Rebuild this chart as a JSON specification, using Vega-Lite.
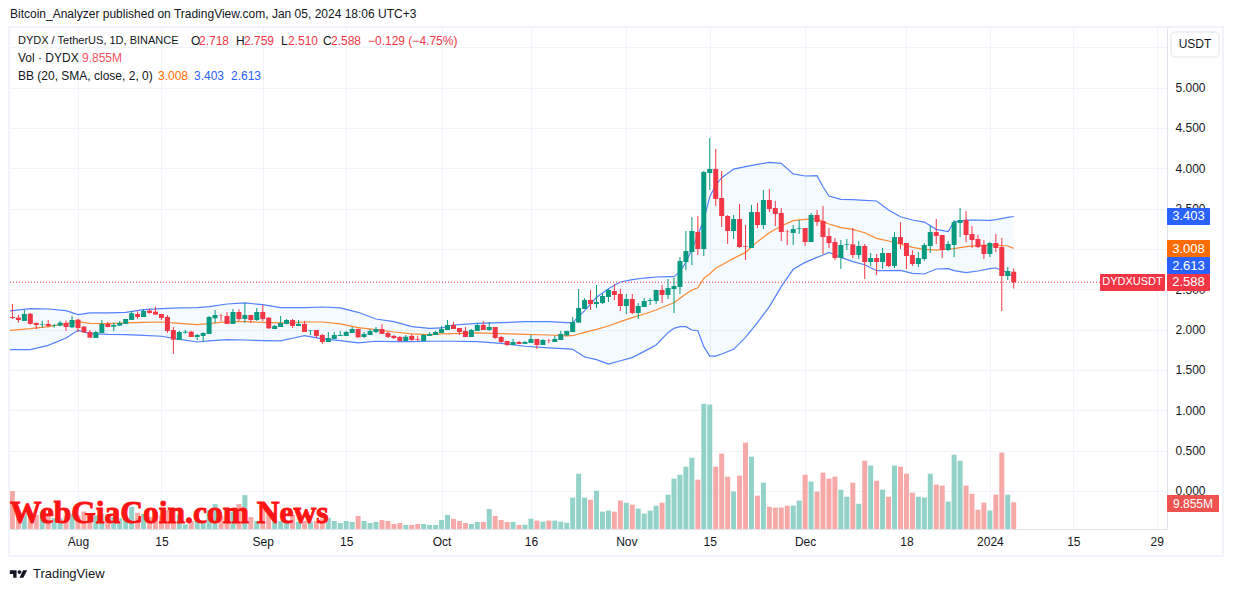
{"$schema":"https://vega.github.io/schema/vega-lite/v6.json","width":1157,"height":501,"autosize":{"type":"none"},"padding":{"left":10,"top":28,"right":66,"bottom":63},"background":"#ffffff","config":{"view":{"stroke":null},"text":{"font":"Liberation Sans","fontSize":12}},"data":{"values":[{}]},"datasets":{"candles":[
{"d":"2023-07-21","o":2.157,"h":2.318,"l":2.132,"c":2.145,"v":14},{"d":"2023-07-22","o":2.149,"h":2.182,"l":2.087,"c":2.12,"v":5},{"d":"2023-07-23","o":2.108,"h":2.244,"l":2.108,"c":2.194,"v":6},{"d":"2023-07-24","o":2.198,"h":2.207,"l":2.062,"c":2.071,"v":5.5},{"d":"2023-07-25","o":2.083,"h":2.087,"l":2.008,"c":2.058,"v":5.2},{"d":"2023-07-26","o":2.058,"h":2.112,"l":2.025,"c":2.066,"v":6.4},{"d":"2023-07-27","o":2.071,"h":2.12,"l":2.029,"c":2.046,"v":5.5},{"d":"2023-07-28","o":2.05,"h":2.071,"l":2.025,"c":2.058,"v":4},{"d":"2023-07-29","o":2.05,"h":2.108,"l":2.042,"c":2.087,"v":4},{"d":"2023-07-30","o":2.083,"h":2.112,"l":1.984,"c":2.033,"v":5},{"d":"2023-07-31","o":2.029,"h":2.17,"l":2.021,"c":2.12,"v":5.5},
{"d":"2023-08-01","o":2.124,"h":2.137,"l":1.971,"c":2.021,"v":5},{"d":"2023-08-02","o":2.037,"h":2.046,"l":1.959,"c":1.967,"v":6.5},{"d":"2023-08-03","o":1.971,"h":1.996,"l":1.897,"c":1.901,"v":5},{"d":"2023-08-04","o":1.897,"h":1.984,"l":1.897,"c":1.971,"v":5},{"d":"2023-08-05","o":1.959,"h":2.12,"l":1.959,"c":2.071,"v":5.5},{"d":"2023-08-06","o":2.071,"h":2.095,"l":2.029,"c":2.033,"v":5.5},{"d":"2023-08-07","o":2.037,"h":2.087,"l":1.98,"c":2.058,"v":4.5},{"d":"2023-08-08","o":2.05,"h":2.108,"l":2.046,"c":2.083,"v":4},{"d":"2023-08-09","o":2.071,"h":2.132,"l":2.071,"c":2.132,"v":4.5},{"d":"2023-08-10","o":2.12,"h":2.232,"l":2.12,"c":2.203,"v":8.2},{"d":"2023-08-11","o":2.194,"h":2.223,"l":2.132,"c":2.157,"v":6},{"d":"2023-08-12","o":2.157,"h":2.256,"l":2.157,"c":2.232,"v":5.5},{"d":"2023-08-13","o":2.236,"h":2.26,"l":2.198,"c":2.207,"v":4.5},{"d":"2023-08-14","o":2.223,"h":2.285,"l":2.186,"c":2.186,"v":4.5},{"d":"2023-08-15","o":2.194,"h":2.194,"l":2.12,"c":2.145,"v":5},{"d":"2023-08-16","o":2.157,"h":2.182,"l":1.959,"c":1.984,"v":7},{"d":"2023-08-17","o":1.996,"h":2.033,"l":1.699,"c":1.876,"v":7.5},{"d":"2023-08-18","o":1.872,"h":1.984,"l":1.872,"c":1.971,"v":5.4},{"d":"2023-08-19","o":1.963,"h":1.996,"l":1.947,"c":1.975,"v":1.7},{"d":"2023-08-20","o":1.975,"h":1.984,"l":1.909,"c":1.909,"v":3},{"d":"2023-08-21","o":1.909,"h":1.947,"l":1.872,"c":1.934,"v":3},{"d":"2023-08-22","o":1.922,"h":1.967,"l":1.847,"c":1.959,"v":3},{"d":"2023-08-23","o":1.947,"h":2.17,"l":1.947,"c":2.157,"v":7},{"d":"2023-08-24","o":2.141,"h":2.244,"l":2.083,"c":2.182,"v":9.2},{"d":"2023-08-25","o":2.182,"h":2.194,"l":2.108,"c":2.178,"v":4.9},{"d":"2023-08-26","o":2.17,"h":2.219,"l":2.071,"c":2.071,"v":4.9},{"d":"2023-08-27","o":2.071,"h":2.256,"l":2.071,"c":2.219,"v":6.4},{"d":"2023-08-28","o":2.219,"h":2.252,"l":2.108,"c":2.132,"v":9.2},{"d":"2023-08-29","o":2.132,"h":2.331,"l":2.083,"c":2.182,"v":12.5},{"d":"2023-08-30","o":2.182,"h":2.182,"l":2.083,"c":2.12,"v":4.4},{"d":"2023-08-31","o":2.12,"h":2.269,"l":2.108,"c":2.219,"v":3},
{"d":"2023-09-01","o":2.219,"h":2.306,"l":2.108,"c":2.132,"v":7.6},{"d":"2023-09-02","o":2.149,"h":2.153,"l":2.008,"c":2.017,"v":5.7},{"d":"2023-09-03","o":2.008,"h":2.058,"l":2.008,"c":2.046,"v":3.6},{"d":"2023-09-04","o":2.033,"h":2.17,"l":2.033,"c":2.083,"v":3},{"d":"2023-09-05","o":2.071,"h":2.132,"l":2.066,"c":2.12,"v":3},{"d":"2023-09-06","o":2.12,"h":2.132,"l":2.021,"c":2.046,"v":5.2},{"d":"2023-09-07","o":2.046,"h":2.12,"l":2.046,"c":2.071,"v":2.7},{"d":"2023-09-08","o":2.071,"h":2.108,"l":1.971,"c":1.971,"v":3},{"d":"2023-09-09","o":1.988,"h":1.996,"l":1.934,"c":1.996,"v":2.7},{"d":"2023-09-10","o":1.996,"h":1.996,"l":1.897,"c":1.922,"v":3},{"d":"2023-09-11","o":1.934,"h":1.947,"l":1.823,"c":1.847,"v":3.9},{"d":"2023-09-12","o":1.847,"h":1.971,"l":1.847,"c":1.897,"v":4.1},{"d":"2023-09-13","o":1.885,"h":1.971,"l":1.885,"c":1.934,"v":2.95},{"d":"2023-09-14","o":1.922,"h":1.984,"l":1.922,"c":1.934,"v":2.2},{"d":"2023-09-15","o":1.922,"h":1.984,"l":1.922,"c":1.971,"v":2.95},{"d":"2023-09-16","o":1.959,"h":2.033,"l":1.959,"c":2.008,"v":2.6},{"d":"2023-09-17","o":2.008,"h":2.012,"l":1.897,"c":1.905,"v":4.8},{"d":"2023-09-18","o":1.909,"h":1.971,"l":1.897,"c":1.947,"v":2.95},{"d":"2023-09-19","o":1.934,"h":2.008,"l":1.934,"c":1.984,"v":2.2},{"d":"2023-09-20","o":1.971,"h":2.033,"l":1.959,"c":2.008,"v":2.6},{"d":"2023-09-21","o":2.008,"h":2.071,"l":1.947,"c":1.947,"v":3.3},{"d":"2023-09-22","o":1.959,"h":1.971,"l":1.897,"c":1.909,"v":2.95},{"d":"2023-09-23","o":1.922,"h":1.934,"l":1.885,"c":1.897,"v":1.85},{"d":"2023-09-24","o":1.909,"h":1.922,"l":1.86,"c":1.86,"v":2.2},{"d":"2023-09-25","o":1.86,"h":1.934,"l":1.86,"c":1.913,"v":1.5},{"d":"2023-09-26","o":1.922,"h":1.947,"l":1.86,"c":1.872,"v":1.5},{"d":"2023-09-27","o":1.885,"h":1.922,"l":1.86,"c":1.876,"v":1.85},{"d":"2023-09-28","o":1.86,"h":1.947,"l":1.86,"c":1.934,"v":1.85},{"d":"2023-09-29","o":1.922,"h":1.971,"l":1.922,"c":1.947,"v":1.5},{"d":"2023-09-30","o":1.934,"h":1.984,"l":1.934,"c":1.971,"v":1.5},
{"d":"2023-10-01","o":1.959,"h":2.046,"l":1.959,"c":2.008,"v":3.3},{"d":"2023-10-02","o":1.996,"h":2.12,"l":1.996,"c":2.058,"v":5.2},{"d":"2023-10-03","o":2.058,"h":2.095,"l":2.008,"c":2.008,"v":3.7},{"d":"2023-10-04","o":2.021,"h":2.021,"l":1.934,"c":1.971,"v":2.95},{"d":"2023-10-05","o":1.984,"h":2.033,"l":1.909,"c":1.909,"v":2.2},{"d":"2023-10-06","o":1.909,"h":2.008,"l":1.909,"c":1.996,"v":1.85},{"d":"2023-10-07","o":1.984,"h":2.083,"l":1.984,"c":2.058,"v":2.6},{"d":"2023-10-08","o":2.058,"h":2.108,"l":1.996,"c":1.996,"v":2.6},{"d":"2023-10-09","o":1.996,"h":2.095,"l":1.984,"c":2.033,"v":7.4},{"d":"2023-10-10","o":2.033,"h":2.033,"l":1.885,"c":1.897,"v":4.8},{"d":"2023-10-11","o":1.909,"h":1.922,"l":1.835,"c":1.847,"v":3.3},{"d":"2023-10-12","o":1.86,"h":1.86,"l":1.798,"c":1.81,"v":2.6},{"d":"2023-10-13","o":1.81,"h":1.885,"l":1.81,"c":1.847,"v":2.6},{"d":"2023-10-14","o":1.847,"h":1.86,"l":1.823,"c":1.823,"v":1.5},{"d":"2023-10-15","o":1.823,"h":1.86,"l":1.823,"c":1.847,"v":1.6},{"d":"2023-10-16","o":1.835,"h":1.934,"l":1.835,"c":1.885,"v":3.8},{"d":"2023-10-17","o":1.885,"h":1.885,"l":1.761,"c":1.81,"v":3.1},{"d":"2023-10-18","o":1.81,"h":1.885,"l":1.81,"c":1.872,"v":2.7},{"d":"2023-10-19","o":1.872,"h":1.885,"l":1.831,"c":1.868,"v":3.1},{"d":"2023-10-20","o":1.847,"h":1.922,"l":1.847,"c":1.885,"v":3.1},{"d":"2023-10-21","o":1.872,"h":1.984,"l":1.872,"c":1.947,"v":2.7},{"d":"2023-10-22","o":1.93,"h":1.984,"l":1.922,"c":1.984,"v":2.3},{"d":"2023-10-23","o":1.971,"h":2.157,"l":1.971,"c":2.095,"v":11.6},{"d":"2023-10-24","o":2.087,"h":2.504,"l":2.087,"c":2.269,"v":20.4},{"d":"2023-10-25","o":2.256,"h":2.393,"l":2.256,"c":2.368,"v":11.6},{"d":"2023-10-26","o":2.368,"h":2.492,"l":2.244,"c":2.318,"v":10.8},{"d":"2023-10-27","o":2.318,"h":2.554,"l":2.269,"c":2.343,"v":14.1},{"d":"2023-10-28","o":2.33,"h":2.442,"l":2.318,"c":2.417,"v":6.4},{"d":"2023-10-29","o":2.405,"h":2.504,"l":2.343,"c":2.492,"v":6.8},{"d":"2023-10-30","o":2.479,"h":2.566,"l":2.367,"c":2.43,"v":6.4},{"d":"2023-10-31","o":2.442,"h":2.504,"l":2.231,"c":2.293,"v":10.5},
{"d":"2023-11-01","o":2.293,"h":2.442,"l":2.194,"c":2.38,"v":9.7},{"d":"2023-11-02","o":2.38,"h":2.442,"l":2.194,"c":2.206,"v":9},{"d":"2023-11-03","o":2.206,"h":2.33,"l":2.132,"c":2.293,"v":7.5},{"d":"2023-11-04","o":2.281,"h":2.392,"l":2.281,"c":2.355,"v":5.7},{"d":"2023-11-05","o":2.355,"h":2.392,"l":2.306,"c":2.367,"v":6.8},{"d":"2023-11-06","o":2.355,"h":2.492,"l":2.318,"c":2.492,"v":8.6},{"d":"2023-11-07","o":2.492,"h":2.553,"l":2.33,"c":2.43,"v":9.7},{"d":"2023-11-08","o":2.43,"h":2.628,"l":2.38,"c":2.516,"v":12.7},{"d":"2023-11-09","o":2.504,"h":2.64,"l":2.206,"c":2.541,"v":18.6},{"d":"2023-11-10","o":2.529,"h":2.901,"l":2.442,"c":2.851,"v":20},{"d":"2023-11-11","o":2.839,"h":3.223,"l":2.739,"c":2.975,"v":23},{"d":"2023-11-12","o":2.963,"h":3.396,"l":2.801,"c":3.223,"v":26.3},{"d":"2023-11-13","o":3.211,"h":3.409,"l":2.925,"c":3,"v":18.2},{"d":"2023-11-14","o":3,"h":3.967,"l":2.913,"c":3.954,"v":46.2},{"d":"2023-11-15","o":3.942,"h":4.376,"l":3.731,"c":3.992,"v":45.9},{"d":"2023-11-16","o":3.992,"h":4.239,"l":3.533,"c":3.62,"v":23},{"d":"2023-11-17","o":3.632,"h":3.967,"l":3.273,"c":3.409,"v":27.8},{"d":"2023-11-18","o":3.409,"h":3.421,"l":3.062,"c":3.223,"v":19.3},{"d":"2023-11-19","o":3.223,"h":3.421,"l":3.124,"c":3.372,"v":13.8},{"d":"2023-11-20","o":3.372,"h":3.558,"l":3.012,"c":3.025,"v":19.7},{"d":"2023-11-21","o":3.037,"h":3.297,"l":2.864,"c":3.029,"v":31.9},{"d":"2023-11-22","o":3.012,"h":3.545,"l":3.012,"c":3.458,"v":26.7},{"d":"2023-11-23","o":3.458,"h":3.57,"l":3.26,"c":3.297,"v":12.3},{"d":"2023-11-24","o":3.297,"h":3.731,"l":3.248,"c":3.607,"v":17.1},{"d":"2023-11-25","o":3.607,"h":3.744,"l":3.458,"c":3.496,"v":8.2},{"d":"2023-11-26","o":3.508,"h":3.595,"l":3.285,"c":3.434,"v":7.9},{"d":"2023-11-27","o":3.446,"h":3.508,"l":3.099,"c":3.211,"v":7.9},{"d":"2023-11-28","o":3.223,"h":3.235,"l":3.049,"c":3.219,"v":8.6},{"d":"2023-11-29","o":3.198,"h":3.297,"l":3.049,"c":3.248,"v":8.6},{"d":"2023-11-30","o":3.252,"h":3.359,"l":3.186,"c":3.26,"v":10.5},
{"d":"2023-12-01","o":3.26,"h":3.26,"l":3.037,"c":3.086,"v":20},{"d":"2023-12-02","o":3.086,"h":3.446,"l":3.086,"c":3.421,"v":17.5},{"d":"2023-12-03","o":3.421,"h":3.483,"l":3.285,"c":3.334,"v":13.8},{"d":"2023-12-04","o":3.347,"h":3.533,"l":2.938,"c":3.148,"v":20.8},{"d":"2023-12-05","o":3.161,"h":3.26,"l":3.012,"c":3.074,"v":18.6},{"d":"2023-12-06","o":3.086,"h":3.136,"l":2.863,"c":2.888,"v":19.3},{"d":"2023-12-07","o":2.888,"h":3.111,"l":2.752,"c":3.049,"v":14.5},{"d":"2023-12-08","o":3.049,"h":3.124,"l":2.987,"c":3.057,"v":11.9},{"d":"2023-12-09","o":3.057,"h":3.26,"l":2.888,"c":2.925,"v":17.1},{"d":"2023-12-10","o":2.925,"h":3.099,"l":2.876,"c":3.037,"v":9.3},{"d":"2023-12-11","o":3.037,"h":3.062,"l":2.628,"c":2.838,"v":25.2},{"d":"2023-12-12","o":2.838,"h":2.95,"l":2.789,"c":2.888,"v":23.4},{"d":"2023-12-13","o":2.888,"h":2.938,"l":2.677,"c":2.838,"v":17.8},{"d":"2023-12-14","o":2.838,"h":3.012,"l":2.752,"c":2.95,"v":14.5},{"d":"2023-12-15","o":2.95,"h":2.95,"l":2.777,"c":2.789,"v":11.9},{"d":"2023-12-16","o":2.789,"h":3.21,"l":2.764,"c":3.148,"v":23.4},{"d":"2023-12-17","o":3.148,"h":3.334,"l":3,"c":3.062,"v":23},{"d":"2023-12-18","o":3.074,"h":3.074,"l":2.752,"c":2.913,"v":20.4},{"d":"2023-12-19","o":2.925,"h":2.987,"l":2.789,"c":2.814,"v":13.4},{"d":"2023-12-20","o":2.814,"h":2.962,"l":2.777,"c":2.888,"v":11.9},{"d":"2023-12-21","o":2.876,"h":3.074,"l":2.855,"c":3.049,"v":11.6},{"d":"2023-12-22","o":3.037,"h":3.285,"l":2.95,"c":3.21,"v":20.4},{"d":"2023-12-23","o":3.21,"h":3.372,"l":3.062,"c":3.161,"v":16.4},{"d":"2023-12-24","o":3.173,"h":3.173,"l":2.888,"c":2.987,"v":16},{"d":"2023-12-25","o":2.987,"h":3.099,"l":2.975,"c":3.062,"v":10.1},{"d":"2023-12-26","o":3.049,"h":3.359,"l":2.9,"c":3.334,"v":27.4},{"d":"2023-12-27","o":3.322,"h":3.508,"l":3.148,"c":3.359,"v":25.2},{"d":"2023-12-28","o":3.359,"h":3.471,"l":3.086,"c":3.173,"v":16},{"d":"2023-12-29","o":3.186,"h":3.285,"l":3.012,"c":3.111,"v":13},{"d":"2023-12-30","o":3.124,"h":3.173,"l":3.012,"c":3.024,"v":7.1},{"d":"2023-12-31","o":3.049,"h":3.111,"l":2.876,"c":2.938,"v":9.7},
{"d":"2024-01-01","o":2.938,"h":3.086,"l":2.9,"c":3.074,"v":6.8},{"d":"2024-01-02","o":3.074,"h":3.186,"l":2.962,"c":3.012,"v":12.7},{"d":"2024-01-03","o":3.024,"h":3.136,"l":2.231,"c":2.665,"v":28.2},{"d":"2024-01-04","o":2.665,"h":2.776,"l":2.615,"c":2.727,"v":12.7},{"d":"2024-01-05","o":2.718,"h":2.759,"l":2.51,"c":2.588,"v":9.855}
],"bands":[
{"d":"2023-07-20","u":2.227,"m":1.988,"b":1.752},{"d":"2023-07-24","u":2.26,"m":2.012,"b":1.752},{"d":"2023-07-27","u":2.256,"m":2.037,"b":1.806},{"d":"2023-07-30","u":2.236,"m":2.075,"b":1.897},{"d":"2023-08-01","u":2.186,"m":2.099,"b":1.992},{"d":"2023-08-03","u":2.207,"m":2.079,"b":1.951},{"d":"2023-08-06","u":2.207,"m":2.075,"b":1.942},{"d":"2023-08-09","u":2.215,"m":2.083,"b":1.938},{"d":"2023-08-12","u":2.248,"m":2.091,"b":1.93},{"d":"2023-08-15","u":2.26,"m":2.095,"b":1.918},{"d":"2023-08-18","u":2.269,"m":2.079,"b":1.88},{"d":"2023-08-21","u":2.273,"m":2.062,"b":1.847},{"d":"2023-08-23","u":2.285,"m":2.075,"b":1.86},{"d":"2023-08-26","u":2.318,"m":2.099,"b":1.876},{"d":"2023-08-29","u":2.331,"m":2.099,"b":1.872},{"d":"2023-09-01","u":2.31,"m":2.091,"b":1.864},{"d":"2023-09-04","u":2.273,"m":2.083,"b":1.86},{"d":"2023-09-06","u":2.273,"m":2.087,"b":1.893},{"d":"2023-09-08","u":2.273,"m":2.095,"b":1.926},{"d":"2023-09-11","u":2.281,"m":2.095,"b":1.885},{"d":"2023-09-14","u":2.269,"m":2.071,"b":1.864},{"d":"2023-09-17","u":2.215,"m":2.025,"b":1.835},{"d":"2023-09-20","u":2.132,"m":2,"b":1.856},{"d":"2023-09-23","u":2.099,"m":1.971,"b":1.852},{"d":"2023-09-26","u":2.037,"m":1.947,"b":1.852},{"d":"2023-09-29","u":2.017,"m":1.938,"b":1.856},{"d":"2023-10-01","u":2.021,"m":1.947,"b":1.856},{"d":"2023-10-03","u":2.058,"m":1.951,"b":1.856},{"d":"2023-10-07","u":2.079,"m":1.959,"b":1.852},{"d":"2023-10-11","u":2.087,"m":1.951,"b":1.831},{"d":"2023-10-15","u":2.099,"m":1.942,"b":1.794},{"d":"2023-10-19","u":2.099,"m":1.934,"b":1.773},{"d":"2023-10-22","u":2.087,"m":1.922,"b":1.761},{"d":"2023-10-23","u":2.087,"m":1.925,"b":1.756},{"d":"2023-10-25","u":2.235,"m":1.967,"b":1.661},{"d":"2023-10-27","u":2.401,"m":2.004,"b":1.628},{"d":"2023-10-29","u":2.508,"m":2.045,"b":1.574},{"d":"2023-10-31","u":2.591,"m":2.099,"b":1.615},{"d":"2023-11-02","u":2.62,"m":2.149,"b":1.653},{"d":"2023-11-04","u":2.64,"m":2.194,"b":1.731},{"d":"2023-11-06","u":2.653,"m":2.244,"b":1.81},{"d":"2023-11-08","u":2.657,"m":2.306,"b":1.963},{"d":"2023-11-09","u":2.657,"m":2.334,"b":2.016},{"d":"2023-11-10","u":2.719,"m":2.388,"b":2.037},{"d":"2023-11-11","u":2.835,"m":2.442,"b":2.037},{"d":"2023-11-12","u":2.996,"m":2.492,"b":1.996},{"d":"2023-11-13","u":3.173,"m":2.52,"b":1.987},{"d":"2023-11-14","u":3.359,"m":2.636,"b":1.789},{"d":"2023-11-15","u":3.649,"m":2.694,"b":1.673},{"d":"2023-11-16","u":3.793,"m":2.76,"b":1.673},{"d":"2023-11-17","u":3.884,"m":2.801,"b":1.698},{"d":"2023-11-19","u":3.99,"m":2.884,"b":1.756},{"d":"2023-11-21","u":4.02,"m":2.958,"b":1.905},{"d":"2023-11-23","u":4.049,"m":3.091,"b":2.087},{"d":"2023-11-25","u":4.074,"m":3.202,"b":2.285},{"d":"2023-11-27","u":4.062,"m":3.285,"b":2.533},{"d":"2023-11-29","u":3.93,"m":3.351,"b":2.748},{"d":"2023-12-01","u":3.905,"m":3.367,"b":2.834},{"d":"2023-12-03","u":3.909,"m":3.372,"b":2.896},{"d":"2023-12-04","u":3.772,"m":3.339,"b":2.925},{"d":"2023-12-05","u":3.657,"m":3.31,"b":2.958},{"d":"2023-12-07","u":3.615,"m":3.264,"b":2.896},{"d":"2023-12-09","u":3.611,"m":3.243,"b":2.843},{"d":"2023-12-11","u":3.603,"m":3.202,"b":2.805},{"d":"2023-12-13","u":3.595,"m":3.132,"b":2.731},{"d":"2023-12-15","u":3.483,"m":3.099,"b":2.731},{"d":"2023-12-17","u":3.4,"m":3.062,"b":2.735},{"d":"2023-12-19","u":3.359,"m":3.02,"b":2.698},{"d":"2023-12-21","u":3.334,"m":2.996,"b":2.69},{"d":"2023-12-23","u":3.243,"m":2.987,"b":2.752},{"d":"2023-12-25","u":3.215,"m":3,"b":2.756},{"d":"2023-12-26","u":3.338,"m":3.004,"b":2.731},{"d":"2023-12-28","u":3.359,"m":3.029,"b":2.706},{"d":"2023-12-30","u":3.359,"m":3.041,"b":2.727},{"d":"2024-01-01","u":3.355,"m":3.049,"b":2.756},{"d":"2024-01-02","u":3.363,"m":3.049,"b":2.764},{"d":"2024-01-04","u":3.392,"m":3.037,"b":2.706},{"d":"2024-01-05","u":3.403,"m":3.008,"b":2.648}
]},
"layer":[
{"layer":[{"data":{"name":"candles"},"mark":{"type":"bar","size":5},"encoding":{"x":{"field":"d","type":"temporal","scale":{"type":"utc","nice":false,"padding":0,"domain":[1689862228208,1706634845316]},"title":null,"axis":{"values":[{"year":2023,"month":8,"date":1,"utc":true},{"year":2023,"month":8,"date":15,"utc":true},{"year":2023,"month":9,"date":1,"utc":true},{"year":2023,"month":9,"date":15,"utc":true},{"year":2023,"month":10,"date":1,"utc":true},{"year":2023,"month":10,"date":16,"utc":true},{"year":2023,"month":11,"date":1,"utc":true},{"year":2023,"month":11,"date":15,"utc":true},{"year":2023,"month":12,"date":1,"utc":true},{"year":2023,"month":12,"date":18,"utc":true},{"year":2024,"month":1,"date":1,"utc":true},{"year":2024,"month":1,"date":15,"utc":true},{"year":2024,"month":1,"date":29,"utc":true}],"labelExpr":"utcFormat(datum.value,'%d')=='01' ? (utcFormat(datum.value,'%m')=='01' ? '2024' : utcFormat(datum.value,'%b')) : utcFormat(datum.value,'%d')","grid":true,"gridColor":"#f0f3fa","gridWidth":1,"ticks":false,"domainColor":"#e0e3eb","labelColor":"#131722","labelFont":"Liberation Sans","labelFontSize":12,"labelPadding":7,"labelFlush":false,"labelOverlap":false,"labelAngle":0}},"y":{"field":"v","type":"quantitative","stack":null,"scale":{"domain":[0,184.9],"nice":false},"axis":null},"color":{"condition":{"test":"datum.c>=datum.o","value":"#92d2c8"},"value":"#f7a9a7"}}}]},
{"layer":[
{"data":{"name":"bands"},"mark":{"type":"area","color":"#2196f3","opacity":0.05,"clip":true},"encoding":{"x":{"field":"d","type":"temporal","title":null},"y":{"field":"u","type":"quantitative","title":null,"scale":{"domain":[-0.4711,5.7394],"nice":false,"zero":false},"axis":{"orient":"right","values":[0,0.5,1,1.5,2,2.5,3,3.5,4,4.5,5,5.5],"format":".3f","grid":true,"gridColor":"#f0f3fa","gridWidth":1,"ticks":false,"domainColor":"#e0e3eb","labelColor":"#131722","labelFont":"Liberation Sans","labelFontSize":12,"labelPadding":8,"labelFlush":false,"labelOverlap":false,"title":null}},"y2":{"field":"b"}}},
{"data":{"name":"bands"},"mark":{"type":"line","color":"#2962ff","strokeWidth":1.2,"opacity":0.8,"clip":true},"encoding":{"x":{"field":"d","type":"temporal"},"y":{"field":"u","type":"quantitative"}}},
{"data":{"name":"bands"},"mark":{"type":"line","color":"#2962ff","strokeWidth":1.2,"opacity":0.8,"clip":true},"encoding":{"x":{"field":"d","type":"temporal"},"y":{"field":"b","type":"quantitative"}}},
{"data":{"name":"bands"},"mark":{"type":"line","color":"#ff6d00","strokeWidth":1.2,"opacity":0.8,"clip":true},"encoding":{"x":{"field":"d","type":"temporal"},"y":{"field":"m","type":"quantitative"}}},
{"mark":{"type":"rule","color":"#f23645","strokeDash":[1,2],"strokeWidth":1},"encoding":{"x":{"datum":1689862228208,"type":"temporal"},"x2":{"datum":1705663570168},"y":{"datum":2.588,"type":"quantitative"}}},
{"data":{"name":"candles"},"mark":{"type":"rule","strokeWidth":1},"encoding":{"x":{"field":"d","type":"temporal"},"y":{"field":"l","type":"quantitative"},"y2":{"field":"h"},"color":{"condition":{"test":"datum.c>=datum.o","value":"#089981"},"value":"#f23645"}}},
{"data":{"name":"candles"},"mark":{"type":"bar","size":5},"encoding":{"x":{"field":"d","type":"temporal"},"y":{"field":"o","type":"quantitative"},"y2":{"field":"c"},"color":{"condition":{"test":"datum.c>=datum.o","value":"#089981"},"value":"#f23645"}}},
{"mark":{"type":"rect","fill":null,"stroke":"#f0f3fa","strokeWidth":2},"encoding":{"x":{"datum":1689847731564,"type":"temporal"},"x2":{"datum":1707446657380},"y":{"datum":5.752,"type":"quantitative"},"y2":{"datum":-0.806}}},
{"mark":{"type":"rect","fill":"#ffffff","stroke":"#e0e3eb","strokeWidth":1,"cornerRadius":4},"encoding":{"x":{"datum":1706692831892,"type":"temporal"},"x2":{"datum":1707388670804},"y":{"datum":5.69,"type":"quantitative"},"y2":{"datum":5.38}}},
{"mark":{"type":"rect","fill":"#2962ff","cornerRadius":1},"encoding":{"x":{"datum":1706634845316,"type":"temporal"},"x2":{"datum":1707258201008},"y":{"datum":3.508,"type":"quantitative"},"y2":{"datum":3.297}}},
{"mark":{"type":"rect","fill":"#ff6d00","cornerRadius":1},"encoding":{"x":{"datum":1706634845316,"type":"temporal"},"x2":{"datum":1707258201008},"y":{"datum":3.111,"type":"quantitative"},"y2":{"datum":2.901}}},
{"mark":{"type":"rect","fill":"#2962ff","cornerRadius":1},"encoding":{"x":{"datum":1706634845316,"type":"temporal"},"x2":{"datum":1707258201008},"y":{"datum":2.901,"type":"quantitative"},"y2":{"datum":2.69}}},
{"mark":{"type":"rect","fill":"#f23645","cornerRadius":1},"encoding":{"x":{"datum":1706634845316,"type":"temporal"},"x2":{"datum":1707258201008},"y":{"datum":2.69,"type":"quantitative"},"y2":{"datum":2.479}}},
{"mark":{"type":"rect","fill":"#f23645","cornerRadius":1},"encoding":{"x":{"datum":1705663570168,"type":"temporal"},"x2":{"datum":1706605852028},"y":{"datum":2.69,"type":"quantitative"},"y2":{"datum":2.479}}},
{"mark":{"type":"rect","fill":"#ef5350","cornerRadius":1},"encoding":{"x":{"datum":1706634845316,"type":"temporal"},"x2":{"datum":1707388670804},"y":{"datum":-0.05,"type":"quantitative"},"y2":{"datum":-0.26}}},
{"mark":{"type":"text","text":"USDT","color":"#131722"},"encoding":{"x":{"datum":1707040751348,"type":"temporal"},"y":{"datum":5.535,"type":"quantitative"}}},
{"mark":{"type":"text","text":"3.403","color":"#ffffff","fontSize":13},"encoding":{"x":{"datum":1706946523162,"type":"temporal"},"y":{"datum":3.403,"type":"quantitative"}}},
{"mark":{"type":"text","text":"3.008","color":"#ffffff","fontSize":13},"encoding":{"x":{"datum":1706946523162,"type":"temporal"},"y":{"datum":3.006,"type":"quantitative"}}},
{"mark":{"type":"text","text":"2.613","color":"#ffffff","fontSize":13},"encoding":{"x":{"datum":1706946523162,"type":"temporal"},"y":{"datum":2.795,"type":"quantitative"}}},
{"mark":{"type":"text","text":"2.588","color":"#ffffff","fontSize":13},"encoding":{"x":{"datum":1706946523162,"type":"temporal"},"y":{"datum":2.585,"type":"quantitative"}}},
{"mark":{"type":"text","text":"DYDXUSDT","color":"#ffffff","fontSize":11},"encoding":{"x":{"datum":1706134711098,"type":"temporal"},"y":{"datum":2.585,"type":"quantitative"}}},
{"mark":{"type":"text","text":"9.855M","color":"#ffffff","fontSize":12},"encoding":{"x":{"datum":1707011758060,"type":"temporal"},"y":{"datum":-0.155,"type":"quantitative"}}},
{"mark":{"type":"text","text":"Bitcoin_Analyzer published on TradingView.com, Jan 05, 2024 18:06 UTC+3","align":"left","color":"#131722"},"encoding":{"x":{"datum":1689862228208,"type":"temporal"},"y":{"datum":5.913,"type":"quantitative"}}},
{"mark":{"type":"text","text":"DYDX / TetherUS, 1D, BINANCE","align":"left","color":"#131722","fontSize":11},"encoding":{"x":{"datum":1689978201360,"type":"temporal"},"y":{"datum":5.578,"type":"quantitative"}}},
{"mark":{"type":"text","text":"O","align":"left","color":"#131722"},"encoding":{"x":{"datum":1692486120772,"type":"temporal"},"y":{"datum":5.578,"type":"quantitative"}}},
{"mark":{"type":"text","text":"2.718","align":"left","color":"#f23645"},"encoding":{"x":{"datum":1692602093924,"type":"temporal"},"y":{"datum":5.578,"type":"quantitative"}}},
{"mark":{"type":"text","text":"H","align":"left","color":"#131722"},"encoding":{"x":{"datum":1693138469752,"type":"temporal"},"y":{"datum":5.578,"type":"quantitative"}}},
{"mark":{"type":"text","text":"2.759","align":"left","color":"#f23645"},"encoding":{"x":{"datum":1693254442904,"type":"temporal"},"y":{"datum":5.578,"type":"quantitative"}}},
{"mark":{"type":"text","text":"L","align":"left","color":"#131722"},"encoding":{"x":{"datum":1693790818732,"type":"temporal"},"y":{"datum":5.578,"type":"quantitative"}}},
{"mark":{"type":"text","text":"2.510","align":"left","color":"#f23645"},"encoding":{"x":{"datum":1693892295240,"type":"temporal"},"y":{"datum":5.578,"type":"quantitative"}}},
{"mark":{"type":"text","text":"C","align":"left","color":"#131722"},"encoding":{"x":{"datum":1694399677780,"type":"temporal"},"y":{"datum":5.578,"type":"quantitative"}}},
{"mark":{"type":"text","text":"2.588","align":"left","color":"#f23645"},"encoding":{"x":{"datum":1694515650932,"type":"temporal"},"y":{"datum":5.578,"type":"quantitative"}}},
{"mark":{"type":"text","text":"−0.129 (−4.75%)","align":"left","color":"#f23645"},"encoding":{"x":{"datum":1695052026760,"type":"temporal"},"y":{"datum":5.578,"type":"quantitative"}}},
{"mark":{"type":"text","text":"Vol · DYDX","align":"left","color":"#131722"},"encoding":{"x":{"datum":1689978201360,"type":"temporal"},"y":{"datum":5.367,"type":"quantitative"}}},
{"mark":{"type":"text","text":"9.855M","align":"left","color":"#f7525f"},"encoding":{"x":{"datum":1690905986576,"type":"temporal"},"y":{"datum":5.367,"type":"quantitative"}}},
{"mark":{"type":"text","text":"BB (20, SMA, close, 2, 0)","align":"left","color":"#131722"},"encoding":{"x":{"datum":1689978201360,"type":"temporal"},"y":{"datum":5.144,"type":"quantitative"}}},
{"mark":{"type":"text","text":"3.008","align":"left","color":"#ff6d00"},"encoding":{"x":{"datum":1692007731520,"type":"temporal"},"y":{"datum":5.144,"type":"quantitative"}}},
{"mark":{"type":"text","text":"3.403","align":"left","color":"#2962ff"},"encoding":{"x":{"datum":1692529610704,"type":"temporal"},"y":{"datum":5.144,"type":"quantitative"}}},
{"mark":{"type":"text","text":"2.613","align":"left","color":"#2962ff"},"encoding":{"x":{"datum":1693065986532,"type":"temporal"},"y":{"datum":5.144,"type":"quantitative"}}},
{"mark":{"type":"point","filled":true,"color":"#131722","opacity":1,"size":300,"shape":"M-.222 -.444H-1V0H-.611V.444H-.222ZM.556 .444H.111L.528 -.444H1ZM.333 -.222A.222 .222 0 1 1 -.111 -.222A.222 .222 0 1 1 .333 -.222Z"},"encoding":{"x":{"datum":1689985449682,"type":"temporal"},"y":{"datum":-1.029,"type":"quantitative"}}},
{"mark":{"type":"text","text":"TradingView","align":"left","color":"#131722","fontSize":13},"encoding":{"x":{"datum":1690195651020,"type":"temporal"},"y":{"datum":-1.029,"type":"quantitative"}}},
{"mark":{"type":"text","text":"WebGiaCoin.com News","align":"left","baseline":"alphabetic","font":"Liberation Serif","fontWeight":"bold","fontSize":31.5,"color":"#ff1414","stroke":"#ff1414","strokeWidth":1},"encoding":{"x":{"datum":1689862228208,"type":"temporal"},"y":{"datum":-0.397,"type":"quantitative"}}}
]}
],"resolve":{"scale":{"y":"independent"}}}
